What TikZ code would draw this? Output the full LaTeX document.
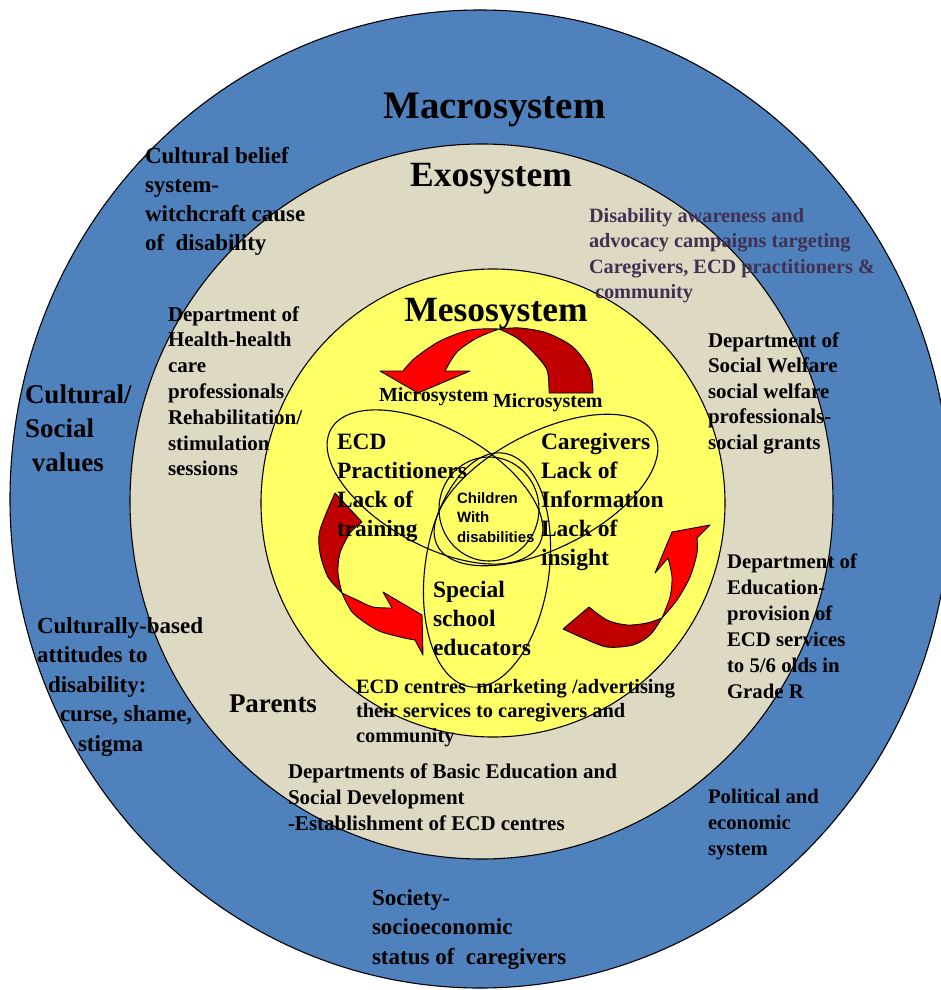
\documentclass[tikz,border=0pt]{standalone}
\usepackage{fontspec}
\setmainfont{Liberation Serif}
\newfontfamily\labelsans{Liberation Sans}
\definecolor{macroblue}{HTML}{4F81BD}
\definecolor{exobeige}{HTML}{DDD9C3}
\definecolor{mesoyellow}{HTML}{FFFF66}
\definecolor{arrowred}{HTML}{FF0000}
\definecolor{arrowdark}{HTML}{C00000}
\definecolor{campaignpurple}{HTML}{403152}
\begin{document}
\begin{tikzpicture}[x=1pt,y=-1pt,
  ring/.style={draw=black, line width=1.1pt},
  micro/.style={draw=black, line width=1.1pt},
  arrowline/.style={draw=black, line width=0.9pt, line join=round},
  % multi-line labels: placed at the baseline of their last line
  txt/.style={inner sep=0pt, outer sep=0pt, anchor=base west, align=left},
  sz/.style 2 args={font=\bfseries\fontsize{#1}{#2}\selectfont},
  title/.style={inner sep=0pt, outer sep=0pt, anchor=base}]
\useasboundingbox (0,0) rectangle (941,990);
\clip (0,0) rectangle (941,990);

% nested systems
\path[ring, fill=macroblue] (480,499) ellipse [x radius=470, y radius=489];
\path[ring, fill=exobeige] (481.5,501.5) ellipse [x radius=351.5, y radius=357.5];
\path[ring, fill=mesoyellow] (493,503) ellipse [x radius=232, y radius=234];

% curved arrows: dark back face, bright front face with head
\path[arrowline, fill=arrowdark] (549,393) -- (593,393)
  -- plot[smooth] coordinates {(593,393) (590,370) (573,347) (547,333) (520,328) (499,329)}
  -- plot[smooth] coordinates {(499,329) (517,338) (533,352) (547,370) (549,393)} -- cycle;
\path[arrowline, fill=arrowred] (499,329)
  -- plot[smooth] coordinates {(499,329) (470,330) (440,341) (415,358) (403,371)}
  -- (380,371) -- (418,393) -- (470,371) -- (445,371)
  -- plot[smooth] coordinates {(445,371) (457,352) (477,338) (499,329)} -- cycle;

\path[arrowline, fill=arrowdark] (335,493) -- (362,522)
  -- plot[smooth] coordinates {(362,522) (350,533) (340,553) (338,573) (342,593)}
  -- plot[smooth] coordinates {(342,593) (328,577) (320,553) (320,530) (335,493)} -- cycle;
\path[arrowline, fill=arrowred] (342,593)
  -- plot[smooth] coordinates {(342,593) (353,613) (377,630) (400,637) (415,640)}
  -- (423,655) -- (422,615) -- (383,592) -- (392,608)
  -- plot[smooth] coordinates {(392,608) (373,607) (357,600) (342,593)} -- cycle;

\path[arrowline, fill=arrowdark] (563,629) -- (589,607)
  -- plot[smooth] coordinates {(589,607) (607,620) (627,625) (647,623) (662,618)}
  -- plot[smooth] coordinates {(662,618) (650,635) (633,645) (607,647) (583,638) (563,629)} -- cycle;
\path[arrowline, fill=arrowred] (662,618)
  -- plot[smooth] coordinates {(662,618) (677,600) (690,577) (697,553) (697,538)}
  -- (710,525) -- (672,532) -- (655,573) -- (668,558)
  -- plot[smooth] coordinates {(668,558) (672,577) (670,597) (662,618)} -- cycle;

% overlapping microsystems
\draw[micro, rotate around={-29:(435,487)}] (435,487) ellipse [x radius=119, y radius=58.5];
\draw[micro, rotate around={27:(546,490)}] (546,490) ellipse [x radius=122, y radius=58];
\draw[micro, rotate around={-8:(487,570)}] (487,570) ellipse [x radius=62, y radius=118];
\draw[micro] (489,509) ellipse [x radius=50, y radius=52];

% titles
\node[title, sz={39}{45}] (macro) at (494.5,118) {Macrosystem};
\node[title, sz={35.5}{40}] (exo) at (491,186) {Exosystem};
\node[title, sz={35.5}{40}] (meso) at (496,321) {Mesosystem};
\node[txt, sz={20}{24}] (microA) at (379,401) {Microsystem};
\node[txt, sz={20}{24}] (microB) at (493,407) {Microsystem};

% microsystem contents
\node[txt, sz={23.4}{29}] (ecd) at (337,536) {ECD\\Practitioners\\Lack of\\training};
\node[txt, sz={23.5}{29}] (care) at (541,565) {Caregivers\\Lack of\\Information\\Lack of\\insight};
\node[txt, sz={23.5}{29}] (special) at (433,655) {Special\\school\\educators};
\node[txt, font=\labelsans\bfseries\fontsize{15}{19.5}\selectfont] (child) at (457,542) {Children\\With\\disabilities};

% macrosystem labels
\node[txt, sz={23}{29}] (belief) at (145,250) {Cultural belief\\system-\\witchcraft cause\\of\ \ disability};
\node[txt, sz={27}{34}] (values) at (25,471) {Cultural/\\Social\\\ values};
\node[txt, sz={23}{29.5}] (attitudes) at (37,751) {Culturally-based\\attitudes to\\\hspace*{11pt}disability:\\\hspace*{23pt}curse, shame,\\\hspace*{41pt}stigma};
\node[txt, sz={20.7}{26}] (political) at (708,855) {Political and\\economic\\system};
\node[txt, sz={23}{29.5}] (society) at (372,964) {Society-\\socioeconomic\\status of\ \ caregivers};

% exosystem labels
\node[txt, sz={21}{25.8}] (health) at (168,475.8) {Department of\\Health-health\\care\\professionals\\Rehabilitation/\\stimulation\\sessions};
\node[txt, sz={20.3}{25.5}, text=campaignpurple] (campaign) at (589,298.5) {Disability awareness and\\advocacy campaigns targeting\\Caregivers, ECD practitioners \&\\\hspace*{6pt}community};
\node[txt, sz={21}{25.5}] (welfare) at (708,449) {Department of\\Social Welfare\\social welfare\\professionals-\\social grants};
\node[txt, sz={20.8}{26}] (education) at (727,698) {Department of\\Education-\\provision of\\ECD services\\to 5/6 olds in\\Grade R};
\node[txt, sz={27}{32}] (parents) at (229,712) {Parents};
\node[txt, sz={20.4}{24.5}] (centres) at (356,742) {ECD centres\ \ marketing /advertising\\their services to caregivers and\\community};
\node[txt, sz={21}{26}] (departments) at (288,830) {Departments of Basic Education and\\Social Development\\-Establishment of ECD centres};
\end{tikzpicture}
\end{document}
